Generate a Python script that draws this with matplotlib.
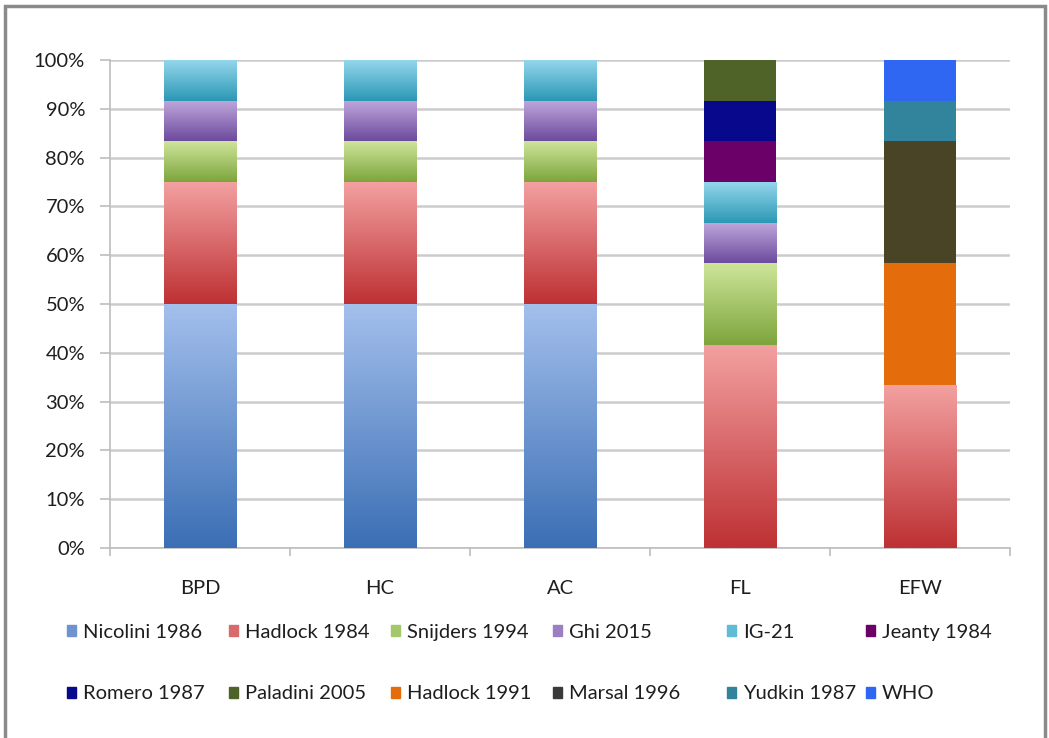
import numpy as np
import matplotlib.pyplot as plt
from matplotlib.patches import Rectangle
from matplotlib.colors import LinearSegmentedColormap

plt.rcParams['font.family'] = ['Lato', 'DejaVu Sans']

categories = ['BPD', 'HC', 'AC', 'FL', 'EFW']
series = ['Nicolini 1986', 'Hadlock 1984', 'Snijders 1994', 'Ghi 2015', 'IG-21',
          'Jeanty 1984', 'Romero 1987', 'Paladini 2005', 'Hadlock 1991',
          'Marsal 1996', 'Yudkin 1987', 'WHO']

# share of studies (%) per parameter
nicolini_1986 = [50, 50, 50, 0, 0]
hadlock_1984 = [25, 25, 25, 41.67, 33.33]
snijders_1994 = [8.33, 8.33, 8.33, 16.67, 0]
ghi_2015 = [8.33, 8.33, 8.33, 8.33, 0]
ig_21 = [8.33, 8.33, 8.33, 8.33, 0]
jeanty_1984 = [0, 0, 0, 8.33, 0]
romero_1987 = [0, 0, 0, 8.33, 0]
paladini_2005 = [0, 0, 0, 8.33, 0]
hadlock_1991 = [0, 0, 0, 0, 25]
marsal_1996 = [0, 0, 0, 0, 25]
yudkin_1987 = [0, 0, 0, 0, 8.33]
who = [0, 0, 0, 0, 8.34]

values = [nicolini_1986, hadlock_1984, snijders_1994, ghi_2015, ig_21,
          jeanty_1984, romero_1987, paladini_2005, hadlock_1991,
          marsal_1996, yudkin_1987, who]

# (top colour, bottom colour); solid when both equal
colors = [('#a3bfec', '#3b6fb5'), ('#f3a0a0', '#be3134'), ('#cde59a', '#7ea53c'),
          ('#bfa8dc', '#6d4b9e'), ('#93d6ec', '#2c98b5'),
          ('#6a0068', '#6a0068'), ('#08088c', '#08088c'), ('#4f6228', '#4f6228'),
          ('#e46c0a', '#e46c0a'), ('#4a4427', '#4a4427'), ('#31849b', '#31849b'),
          ('#2f66f2', '#2f66f2')]
legend_colors = ['#6f93cf', '#d86a6b', '#a3c86a', '#9a80c2', '#5ebcd6',
                 '#6a0068', '#08088c', '#4f6228', '#e46c0a', '#3a3a3a',
                 '#31849b', '#2f66f2']
legend_cols_px = [67, 229, 391, 553, 727, 866]

fig = plt.figure(figsize=(10.49, 7.38), dpi=100)
ax = fig.add_axes([0.1049, 0.2575, 0.858, 0.6612])

x = np.arange(len(categories))
bottom = np.zeros(len(categories))
grad = np.linspace(0, 1, 100).reshape(-1, 1)
for name, vals, (ctop, cbot) in zip(series, values, colors):
    bars = ax.bar(x, vals, 0.4, bottom=bottom, color=cbot, label=name,
                  zorder=3, linewidth=0)
    if ctop != cbot:
        cmap = LinearSegmentedColormap.from_list(name, [cbot, ctop])
        for b in bars:
            if b.get_height() <= 0:
                continue
            x0, y0 = b.get_x(), b.get_y()
            ax.imshow(grad, cmap=cmap, origin='lower', aspect='auto',
                      extent=(x0, x0 + b.get_width(), y0, y0 + b.get_height()),
                      zorder=3.5)
    bottom += np.array(vals)

txt_color = '#1e1e1e'
ax.set_xlim(-0.5, 4.5)
ax.set_ylim(0, 100)
ax.set_yticks(np.arange(0, 101, 10))
ax.set_yticklabels([f'{v}%' for v in range(0, 101, 10)], fontsize=14.5, color=txt_color)
ax.set_xticks(x)
ax.set_xticklabels(categories, fontsize=14.5, color=txt_color)
ax.set_xticks(np.arange(-0.5, 5, 1), minor=True)
ax.tick_params(axis='x', which='major', length=0, pad=23)
ax.tick_params(axis='x', which='minor', length=6, color='#bdbdbd', width=1.2)
ax.tick_params(axis='y', length=7, color='#bdbdbd', width=1.2, pad=11)
ax.grid(axis='y', color='#cccccc', linewidth=1.8, zorder=0)
for s in ['top', 'right']:
    ax.spines[s].set_visible(False)
for s in ['left', 'bottom']:
    ax.spines[s].set_color('#bdbdbd')
    ax.spines[s].set_linewidth(1.2)

handles = [Rectangle((0, 0), 1, 1, color=c) for c in legend_colors]
for j, xpx in enumerate(legend_cols_px):
    idx = [j, j + 6]
    fig.legend([handles[i] for i in idx], [series[i] for i in idx],
               loc='upper left', bbox_to_anchor=(xpx / 1049, 1 - 624 / 738),
               frameon=False, fontsize=14.5, handlelength=0.45, handleheight=0.45,
               handletextpad=0.35, labelspacing=2.2, borderpad=0,
               borderaxespad=0, labelcolor=txt_color)

fig.patches.append(Rectangle((5 / 1049, -0.05), 1040 / 1049, 1.05 - 6 / 738,
                             transform=fig.transFigure, fill=False,
                             edgecolor='#8a8a8a', linewidth=2.5))

fig.savefig('out.png', dpi=100)
